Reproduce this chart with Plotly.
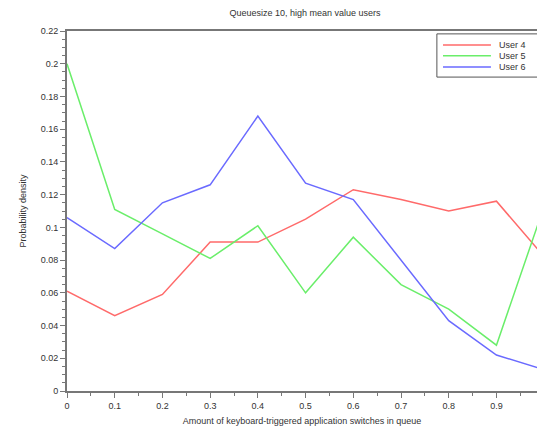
import plotly.graph_objects as go

# Fraction of keyboard-triggered application switches in the queue
x_vals = [0, 0.1, 0.2, 0.3, 0.4, 0.5, 0.6, 0.7, 0.8, 0.9, 1.0]

# Probability density per user
user4 = [0.061, 0.046, 0.059, 0.091, 0.091, 0.105, 0.123, 0.117, 0.110, 0.116, 0.082]
user5 = [0.200, 0.111, 0.096, 0.081, 0.101, 0.060, 0.094, 0.065, 0.050, 0.028, 0.113]
user6 = [0.106, 0.087, 0.115, 0.126, 0.168, 0.127, 0.117, 0.080, 0.043, 0.022, 0.013]

series_names = ["User 4", "User 5", "User 6"]
series_colors = ["#ff6a6a", "#6aee6a", "#6a6aff"]

x_ticks = [0, 0.1, 0.2, 0.3, 0.4, 0.5, 0.6, 0.7, 0.8, 0.9]
x_tick_text = ["0", "0.1", "0.2", "0.3", "0.4", "0.5", "0.6", "0.7", "0.8", "0.9"]
y_ticks = [0, 0.02, 0.04, 0.06, 0.08, 0.1, 0.12, 0.14, 0.16, 0.18, 0.2, 0.22]
y_tick_text = ["0", "0.02", "0.04", "0.06", "0.08", "0.1", "0.12", "0.14", "0.16", "0.18", "0.2", "0.22"]

font_family = "Liberation Sans, Arial, sans-serif"
text_color = "#333333"
axis_color = "#777777"

fig = go.Figure()
for name, ys, col in zip(series_names, [user4, user5, user6], series_colors):
    fig.add_trace(go.Scatter(
        x=x_vals, y=ys, mode="lines", name=name,
        line=dict(color=col, width=1.5), showlegend=False,
    ))

# Compact legend box in the upper right corner (paper coordinates)
shapes = [dict(
    type="rect", xref="paper", yref="paper",
    x0=0.787, x1=1.02, y0=0.872, y1=0.992,
    line=dict(color="#555555", width=1), fillcolor="white", layer="above",
)]
annotations = []
row_y = [0.961, 0.931, 0.900]
for name, col, yy in zip(series_names, series_colors, row_y):
    shapes.append(dict(
        type="line", xref="paper", yref="paper",
        x0=0.800, x1=0.902, y0=yy, y1=yy,
        line=dict(color=col, width=1.5), layer="above",
    ))
    annotations.append(dict(
        xref="paper", yref="paper", x=0.915, y=yy,
        text=name, showarrow=False, xanchor="left", yanchor="middle",
        font=dict(size=9, color=text_color),
    ))

fig.update_layout(
    width=537, height=427,
    margin=dict(l=67, r=0, t=31, b=36),
    paper_bgcolor="white", plot_bgcolor="white",
    font=dict(family=font_family, size=9, color=text_color),
    title=dict(
        text="Queuesize 10, high mean value users",
        font=dict(size=9, color=text_color),
        x=0.568, xanchor="center", y=0.97, yanchor="middle",
    ),
    showlegend=False,
    shapes=shapes,
    annotations=annotations,
    xaxis=dict(
        range=[0, 0.985],
        tickvals=x_ticks, ticktext=x_tick_text,
        ticks="outside", ticklen=5, tickwidth=1, tickcolor=axis_color,
        minor=dict(dtick=0.05, ticks="outside", ticklen=3, tickcolor=axis_color),
        showline=True, linecolor=axis_color, linewidth=2, mirror=True,
        showgrid=False, zeroline=False,
        title=dict(text="Amount of keyboard-triggered application switches in queue",
                   font=dict(size=9, color=text_color), standoff=8),
        tickfont=dict(size=9, color=text_color),
    ),
    yaxis=dict(
        range=[0, 0.22],
        tickvals=y_ticks, ticktext=y_tick_text,
        ticks="outside", ticklen=5, tickwidth=1, tickcolor=axis_color,
        minor=dict(dtick=0.005, ticks="outside", ticklen=3, tickcolor=axis_color),
        showline=True, linecolor=axis_color, linewidth=2,
        showgrid=False, zeroline=False,
        title=dict(text="Probability density",
                   font=dict(size=9, color=text_color), standoff=13),
        tickfont=dict(size=9, color=text_color),
    ),
)

fig.write_html("out.html")
